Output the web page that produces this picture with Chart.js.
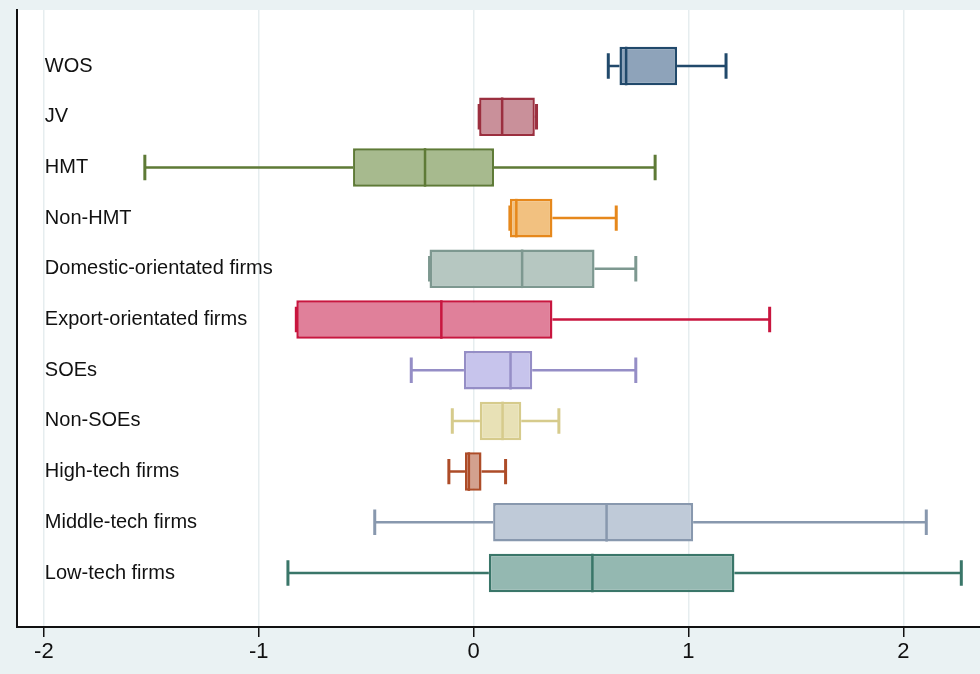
<!DOCTYPE html>
<html>
<head>
<meta charset="utf-8">
<script src="https://cdn.jsdelivr.net/npm/chart.js@4.4.0/dist/chart.umd.min.js"></script>
<style>
  html, body { margin: 0; padding: 0; background: #eaf2f3; }
  #wrap { width: 980px; height: 674px; }
</style>
</head>
<body>
<div id="wrap"><canvas id="grafico"></canvas></div>
<script>
// datos
const categorias = ['WOS', 'JV', 'HMT', 'Non-HMT', 'Domestic-orientated firms', 'Export-orientated firms',
  'SOEs', 'Non-SOEs', 'High-tech firms', 'Middle-tech firms', 'Low-tech firms'];
const minimos  = [0.627, 0.026, -1.530, 0.169, -0.205, -0.825, -0.290, -0.099, -0.115, -0.460, -0.864];
const q1       = [0.679, 0.026, -0.561, 0.169, -0.205, -0.825, -0.045,  0.029, -0.040,  0.091,  0.071];
const medianas = [0.710, 0.133, -0.226, 0.199,  0.226, -0.150,  0.172,  0.135, -0.022,  0.619,  0.553];
const q3       = [0.947, 0.285,  0.095, 0.367,  0.563,  0.367,  0.273,  0.222,  0.037,  1.022,  1.214];
const maximos  = [1.175, 0.293,  0.845, 0.664,  0.755,  1.378,  0.755,  0.397,  0.149,  2.107,  2.270];
const ticksX = [-2, -1, 0, 1, 2];

const rellenos = ['#8ea3ba', '#c9909a', '#a7ba8e', '#f2c180', '#b6c7c1', '#e0809a',
  '#c7c4ec', '#e8e1b6', '#d3a18f', '#bfcad8', '#94b8b1'];
const bordes = ['#21496b', '#9b2f3f', '#5e7a36', '#e6881c', '#7d9890', '#c8163f',
  '#958ec6', '#d6cb8c', '#ad4c28', '#8898ae', '#3a7669'];

const fuente = '"Liberation Sans", Arial, sans-serif';

// fondo blanco y bigotes (debajo de las cajas)
const cajasPlugin = {
  id: 'cajas',
  beforeDraw(chart) {
    const a = chart.chartArea;
    const ctx = chart.ctx;
    ctx.save();
    ctx.fillStyle = '#ffffff';
    ctx.fillRect(a.left, a.top, a.right - a.left, a.bottom - a.top);
    ctx.restore();
  },
  beforeDatasetsDraw(chart) {
    const ctx = chart.ctx;
    const x = chart.scales.x;
    const meta = chart.getDatasetMeta(0);
    ctx.save();
    meta.data.forEach((bar, i) => {
      const yc = bar.y;
      const cap = bar.height * 0.33;
      ctx.strokeStyle = bordes[i];
      ctx.lineWidth = 2.5;
      ctx.beginPath();
      ctx.moveTo(x.getPixelForValue(minimos[i]), yc);
      ctx.lineTo(x.getPixelForValue(q1[i]), yc);
      ctx.moveTo(x.getPixelForValue(q3[i]), yc);
      ctx.lineTo(x.getPixelForValue(maximos[i]), yc);
      ctx.stroke();
      ctx.lineWidth = 3;
      ctx.beginPath();
      [minimos[i], maximos[i]].forEach(v => {
        const px = x.getPixelForValue(v);
        ctx.moveTo(px, yc - cap);
        ctx.lineTo(px, yc + cap);
      });
      ctx.stroke();
    });
    ctx.restore();
  },
  afterDatasetsDraw(chart) {
    const ctx = chart.ctx;
    const x = chart.scales.x;
    const meta = chart.getDatasetMeta(0);
    ctx.save();
    meta.data.forEach((bar, i) => {
      const yc = bar.y;
      const h = bar.height;
      const pm = x.getPixelForValue(medianas[i]);
      ctx.strokeStyle = bordes[i];
      ctx.lineWidth = 2.5;
      ctx.beginPath();
      ctx.moveTo(pm, yc - h / 2);
      ctx.lineTo(pm, yc + h / 2);
      ctx.stroke();

      ctx.fillStyle = '#111111';
      ctx.font = '20px ' + fuente;
      ctx.textAlign = 'left';
      ctx.textBaseline = 'middle';
      ctx.fillText(categorias[i], x.getPixelForValue(-2) + 1, yc);
    });
    ctx.restore();
  }
};

const ctxGrafico = document.getElementById('grafico');

let cajasChart = new Chart(ctxGrafico, {
  type: 'bar',
  data: {
    labels: categorias,
    datasets: [{
      data: q1.map((v, i) => ({ x: [v, q3[i]], y: i })),
      backgroundColor: rellenos,
      borderColor: bordes,
      borderWidth: 2.5,
      borderSkipped: false,
      categoryPercentage: 1,
      barPercentage: 0.76
    }]
  },
  options: {
    indexAxis: 'y',
    responsive: true,
    maintainAspectRatio: false,
    animation: false,
    layout: { padding: { left: 17, top: 10, right: 0, bottom: 0 } },
    plugins: { legend: { display: false }, tooltip: { enabled: false } },
    scales: {
      x: {
        type: 'linear',
        min: -2.125,
        max: 2.357,
        afterBuildTicks: (s) => { s.ticks = ticksX.map(v => ({ value: v })); },
        afterFit: (s) => { s.height = 47; },
        ticks: {
          padding: 2,
          color: '#111111',
          font: { size: 22, family: fuente },
          callback: (v) => String(v)
        },
        grid: { color: '#e6edef', lineWidth: 1.5, tickColor: '#111111', tickLength: 10, drawTicks: true },
        border: { color: '#111111', width: 2 }
      },
      y: {
        type: 'linear',
        reverse: true,
        offset: false,
        min: -1.105,
        max: 11.065,
        afterFit: (s) => { s.width = 0; },
        ticks: { display: false },
        grid: { display: false, drawTicks: false },
        border: { color: '#111111', width: 2 }
      }
    }
  },
  plugins: [cajasPlugin]
});
</script>
</body>
</html>
